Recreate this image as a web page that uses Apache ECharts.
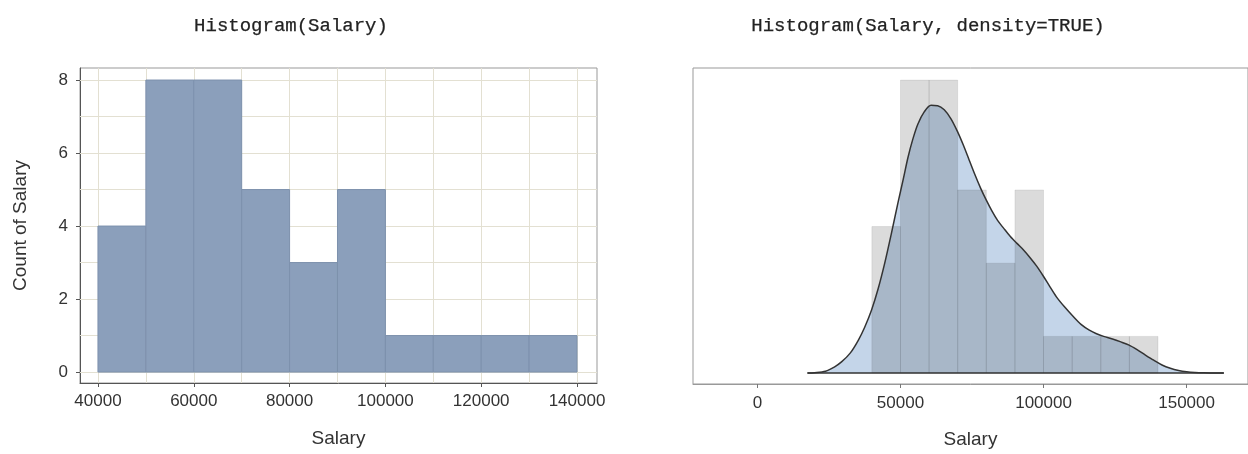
<!DOCTYPE html>
<html>
<head>
<meta charset="utf-8">
<script src="https://cdn.jsdelivr.net/npm/echarts@6/dist/echarts.min.js"></script>
<style>
  html, body { margin: 0; padding: 0; background: #fff; }
  #chart { width: 1248px; height: 454px; }
</style>
</head>
<body>
<div id="chart"></div>
<script>
// ---- data ----
const binEdges = [40000, 50000, 60000, 70000, 80000, 90000, 100000, 110000, 120000, 130000, 140000];
const counts = [4, 8, 8, 5, 3, 5, 1, 1, 1, 1];
const leftXTicks = [40000, 60000, 80000, 100000, 120000, 140000];
const leftYTicks = [0, 2, 4, 6, 8];
const leftGridX = [40000, 50000, 60000, 70000, 80000, 90000, 100000, 110000, 120000, 130000, 140000];
const leftGridY = [0, 1, 2, 3, 4, 5, 6, 7, 8];
const rightXTicks = [0, 50000, 100000, 150000];
// density curve (scaled to count units of the histogram)
const densityX = [17500, 20000, 23800, 27000, 29500, 32500, 35300, 37500, 39900, 42200, 44500, 46800, 49100, 51000, 52600, 54300, 56100, 58300, 60700, 63000, 65300, 67600, 69900, 72000, 74000, 76000, 78000, 80000, 82000, 84000, 86100, 88400, 90700, 93000, 95300, 97600, 99900, 102200, 104500, 107400, 110300, 113100, 116000, 118300, 121000, 124100, 127000, 129900, 132800, 135600, 138500, 141400, 144300, 147200, 150000, 152900, 156000, 160000, 163000];
const densityY = [0, 0.01, 0.05, 0.17, 0.31, 0.55, 0.90, 1.25, 1.72, 2.3, 3.0, 3.8, 4.64, 5.3, 5.88, 6.38, 6.8, 7.13, 7.31, 7.3, 7.19, 6.95, 6.6, 6.22, 5.82, 5.42, 5.05, 4.72, 4.42, 4.16, 3.95, 3.73, 3.54, 3.36, 3.15, 2.92, 2.65, 2.36, 2.08, 1.8, 1.55, 1.33, 1.17, 1.08, 1.0, 0.93, 0.85, 0.76, 0.63, 0.49, 0.35, 0.22, 0.13, 0.07, 0.035, 0.015, 0.005, 0, 0];

// ---- derived ----
const barData = counts.map((c, i) => [binEdges[i], binEdges[i + 1], c]);
const curveData = densityX.map((x, i) => [x, densityY[i]]);
const baseData = [[densityX[0], 0], [densityX[densityX.length - 1], 0]];

function barRenderer(fill, stroke) {
  return function (params, api) {
    const x0 = api.value(0), x1 = api.value(1), c = api.value(2);
    const p0 = api.coord([x0, c]);
    const p1 = api.coord([x1, 0]);
    return {
      type: 'rect',
      shape: { x: p0[0], y: p0[1], width: p1[0] - p0[0], height: p1[1] - p0[1] },
      style: { fill: fill, stroke: stroke, lineWidth: 1 }
    };
  };
}

const plain = v => String(v);
const labelFont = { fontFamily: 'Liberation Sans, Arial, sans-serif', fontSize: 17, color: '#333' };
const nameFont = { fontFamily: 'Liberation Sans, Arial, sans-serif', fontSize: 19, color: '#333' };
const titleFont = { fontFamily: 'Liberation Mono, Courier New, monospace', fontSize: 19, fontWeight: 'normal', color: '#222', textBorderColor: '#222', textBorderWidth: 0.25 };

const chart = echarts.init(document.getElementById('chart'), null, { renderer: 'canvas' });
chart.setOption({
  animation: false,
  backgroundColor: '#fff',
  title: [
    { text: 'Histogram(Salary)', left: 286, top: 11, textAlign: 'center', textStyle: titleFont },
    { text: 'Histogram(Salary, density=TRUE)', left: 923, top: 11, textAlign: 'center', textStyle: titleFont }
  ],
  grid: [
    { left: 80, top: 68, width: 517, height: 315, show: true, borderColor: '#999', borderWidth: 1, backgroundColor: 'transparent' },
    { left: 693, top: 68, width: 560, height: 316, show: true, borderColor: '#999', borderWidth: 1, backgroundColor: 'transparent' }
  ],
  xAxis: [
    {
      gridIndex: 0, type: 'value', min: 36250, max: 144170,
      name: 'Salary', nameLocation: 'middle', nameGap: 46, nameTextStyle: nameFont,
      axisLine: { show: true, onZero: false, lineStyle: { color: '#555' } },
      axisTick: { show: true, customValues: leftXTicks, length: 4, lineStyle: { color: '#555' } },
      axisLabel: Object.assign({ customValues: leftXTicks, margin: 10, formatter: plain }, labelFont),
      splitLine: { show: false }
    },
    {
      gridIndex: 1, type: 'value', min: -22500, max: 171450,
      name: 'Salary', nameLocation: 'middle', nameGap: 46, nameTextStyle: nameFont,
      axisLine: { show: true, onZero: false, lineStyle: { color: '#999' } },
      axisTick: { show: true, customValues: rightXTicks, length: 4, lineStyle: { color: '#777' } },
      axisLabel: Object.assign({ customValues: rightXTicks, margin: 11, formatter: plain }, labelFont),
      splitLine: { show: false }
    }
  ],
  yAxis: [
    {
      gridIndex: 0, type: 'value', min: -0.3, max: 8.33,
      name: 'Count of Salary', nameLocation: 'middle', nameGap: 50, nameTextStyle: nameFont,
      axisLine: { show: true, onZero: false, lineStyle: { color: '#555' } },
      axisTick: { show: true, customValues: leftYTicks, length: 4, lineStyle: { color: '#555' } },
      axisLabel: Object.assign({ customValues: leftYTicks, margin: 12, formatter: plain }, labelFont),
      splitLine: { show: false }
    },
    {
      gridIndex: 1, type: 'value', min: -0.3, max: 8.33,
      axisLine: { show: false }, axisTick: { show: false }, axisLabel: { show: false },
      splitLine: { show: false }
    }
  ],
  series: [
    {
      name: 'grid', type: 'line', xAxisIndex: 0, yAxisIndex: 0, data: [], z: 1, silent: true,
      markLine: {
        z: 1, silent: true, symbol: 'none', animation: false,
        label: { show: false },
        lineStyle: { color: '#e3e0d2', width: 1, type: 'solid' },
        emphasis: { disabled: true },
        data: leftGridX.map(v => ({ xAxis: v })).concat(leftGridY.map(v => ({ yAxis: v })))
      }
    },
    {
      name: 'Count', type: 'custom', xAxisIndex: 0, yAxisIndex: 0, z: 6,
      renderItem: barRenderer('#8b9fbb', '#7d91ad'),
      encode: { x: [0, 1], y: 2 },
      data: barData, silent: true
    },
    {
      name: 'DensityFill', type: 'line', xAxisIndex: 1, yAxisIndex: 1, z: 1,
      data: curveData, smooth: 0.3, showSymbol: false, silent: true,
      lineStyle: { width: 0 },
      areaStyle: { color: '#c4d5e9', opacity: 1 }
    },
    {
      name: 'Bars', type: 'custom', xAxisIndex: 1, yAxisIndex: 1, z: 2,
      renderItem: barRenderer('rgba(0,0,0,0.14)', 'rgba(0,0,0,0.08)'),
      encode: { x: [0, 1], y: 2 },
      data: barData, silent: true
    },
    {
      name: 'Density', type: 'line', xAxisIndex: 1, yAxisIndex: 1, z: 3,
      data: curveData, smooth: 0.3, showSymbol: false, silent: true,
      lineStyle: { color: '#333', width: 1.5 }
    },
    {
      name: 'Baseline', type: 'line', xAxisIndex: 1, yAxisIndex: 1, z: 3,
      data: baseData, showSymbol: false, silent: true,
      lineStyle: { color: '#333', width: 1.5 }
    }
  ]
});
</script>
</body>
</html>
